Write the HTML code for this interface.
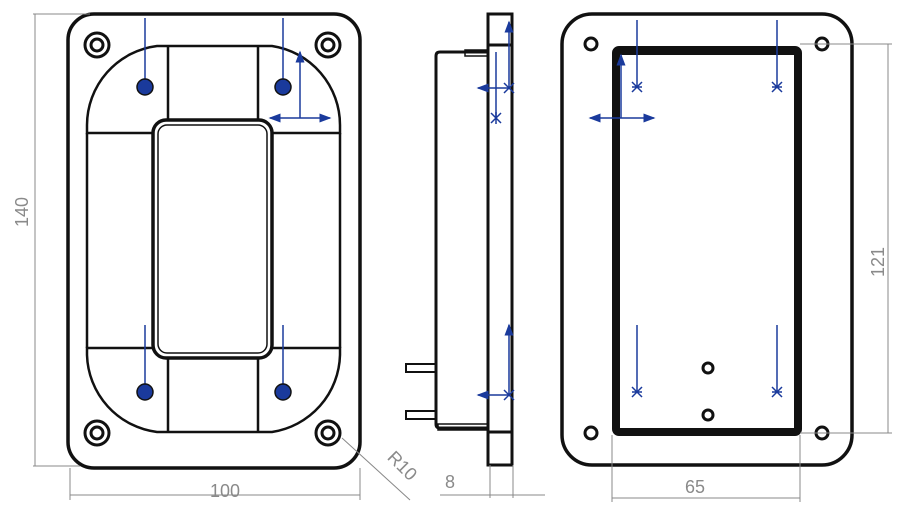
<!DOCTYPE html>
<html><head><meta charset="utf-8"><style>
html,body{margin:0;padding:0;background:#fff;}
svg{display:block;}
text{font-family:"Liberation Sans",sans-serif;fill:#8a8a8a;font-size:18px;}
</style></head><body>
<svg width="900" height="515" viewBox="0 0 900 515" xmlns="http://www.w3.org/2000/svg">
<defs>
<marker id="ah" markerWidth="8" markerHeight="8" refX="7" refY="4" orient="auto"><path d="M0,1 L8,4 L0,7 Z" fill="#1a3a9c"/></marker>
</defs>
<!-- LEFT VIEW -->
<g fill="none" stroke="#111" stroke-width="3.5">
<rect x="68" y="14" width="292" height="454" rx="26"/>
</g>
<g fill="none" stroke="#111" stroke-width="2.5">
<path d="M87,133 L87,125 A80,80 0 0 1 157,46 L272,46 A80,80 0 0 1 340,125 L340,133 Z"/>
<path d="M87,348 L87,355 A80,80 0 0 0 157,432 L272,432 A80,80 0 0 0 340,355 L340,348 Z"/>
<line x1="87" y1="133" x2="87" y2="348"/>
<line x1="340" y1="133" x2="340" y2="348"/>
<line x1="168" y1="46" x2="168" y2="120"/>
<line x1="258" y1="46" x2="258" y2="120"/>
<line x1="168" y1="358" x2="168" y2="432"/>
<line x1="258" y1="358" x2="258" y2="432"/>
<rect x="153" y="120" width="119" height="238" rx="13" fill="#fff" stroke-width="3.5"/>
<rect x="158" y="125" width="109" height="228" rx="9" stroke-width="1.5"/>
</g>
<g fill="none" stroke="#111" stroke-width="3">
<circle cx="97" cy="45" r="12"/><circle cx="97" cy="45" r="6"/>
<circle cx="328" cy="45" r="12"/><circle cx="328" cy="45" r="6"/>
<circle cx="97" cy="433" r="12"/><circle cx="97" cy="433" r="6"/>
<circle cx="328" cy="433" r="12"/><circle cx="328" cy="433" r="6"/>
</g>
<g stroke="#1a3a9c" stroke-width="1.5" fill="#1a3a9c">
<line x1="145" y1="18" x2="145" y2="87"/><line x1="283" y1="18" x2="283" y2="87"/>
<line x1="145" y1="325" x2="145" y2="392"/><line x1="283" y1="325" x2="283" y2="392"/>
<circle cx="145" cy="87" r="8" stroke="#111"/><circle cx="283" cy="87" r="8" stroke="#111"/>
<circle cx="145" cy="392" r="8" stroke="#111"/><circle cx="283" cy="392" r="8" stroke="#111"/>
<line x1="300" y1="118" x2="300" y2="52" marker-end="url(#ah)"/>
<line x1="300" y1="118" x2="270" y2="118" marker-end="url(#ah)"/>
<line x1="300" y1="118" x2="330" y2="118" marker-end="url(#ah)"/>
</g>
<g stroke="#888" stroke-width="1" fill="none">
<line x1="33" y1="14" x2="90" y2="14"/><line x1="33" y1="466" x2="80" y2="466"/>
<line x1="35" y1="14" x2="35" y2="466"/>
<line x1="70" y1="468" x2="70" y2="500"/><line x1="360" y1="468" x2="360" y2="500"/>
<line x1="70" y1="495" x2="360" y2="495"/>
<line x1="342" y1="438" x2="410" y2="500"/>
</g>
<text x="28" y="212" transform="rotate(-90 28 212)" text-anchor="middle">140</text>
<text x="225" y="497" text-anchor="middle">100</text>
<text x="398" y="470" transform="rotate(45 398 470)" text-anchor="middle">R10</text>
<!-- SIDE VIEW -->
<g fill="none" stroke="#111" stroke-width="3">
<rect x="488" y="14" width="24" height="451"/>
<line x1="488" y1="45" x2="512" y2="45"/><line x1="488" y1="432" x2="512" y2="432"/>
<path d="M488,52 L440,52 Q436,52 436,56 L436,424 Q436,428 440,428 L488,428"/>
<rect x="465" y="50" width="23" height="6" stroke-width="1.5"/>
<rect x="438" y="424" width="50" height="6" stroke-width="1.5"/>
<rect x="406" y="364" width="30" height="8" stroke-width="2"/>
<rect x="406" y="411" width="30" height="8" stroke-width="2"/>
</g>
<g stroke="#1a3a9c" stroke-width="1.5" fill="none">
<line x1="509" y1="88" x2="509" y2="22" marker-end="url(#ah)"/>
<line x1="509" y1="88" x2="478" y2="88" marker-end="url(#ah)"/>
<line x1="496" y1="52" x2="496" y2="118"/>
<line x1="509" y1="395" x2="509" y2="325" marker-end="url(#ah)"/>
<line x1="509" y1="395" x2="478" y2="395" marker-end="url(#ah)"/>
<path d="M491,113 l10,10 M501,113 l-10,10 M496,112 v12" />
<path d="M504,83 l10,10 M514,83 l-10,10" />
<path d="M504,390 l10,10 M514,390 l-10,10" />
</g>
<g stroke="#888" stroke-width="1" fill="none">
<line x1="490" y1="465" x2="490" y2="498"/><line x1="513" y1="465" x2="513" y2="498"/>
<line x1="440" y1="495" x2="545" y2="495"/>
</g>
<text x="450" y="488" text-anchor="middle">8</text>
<!-- RIGHT VIEW -->
<rect x="562" y="14" width="290" height="451" rx="30" fill="none" stroke="#111" stroke-width="3.5"/>
<g fill="none" stroke="#111" stroke-width="3">
<circle cx="591" cy="44" r="6"/><circle cx="822" cy="44" r="6"/>
<circle cx="591" cy="433" r="6"/><circle cx="822" cy="433" r="6"/>
<circle cx="708" cy="368" r="5"/><circle cx="708" cy="415" r="5"/>
</g>
<rect x="616" y="50" width="182" height="382" fill="none" stroke="#111" stroke-width="8" rx="3"/>
<line x1="620" y1="54" x2="796" y2="54" stroke="#111" stroke-width="2"/>
<g stroke="#1a3a9c" stroke-width="1.5" fill="none">
<line x1="637" y1="20" x2="637" y2="87"/><line x1="777" y1="20" x2="777" y2="87"/>
<line x1="637" y1="325" x2="637" y2="392"/><line x1="777" y1="325" x2="777" y2="392"/>
<path d="M632,82 l10,10 M642,82 l-10,10 M632,87 h10"/>
<path d="M772,82 l10,10 M782,82 l-10,10 M772,87 h10"/>
<path d="M632,387 l10,10 M642,387 l-10,10 M632,392 h10"/>
<path d="M772,387 l10,10 M782,387 l-10,10 M772,392 h10"/>
<line x1="621" y1="118" x2="621" y2="55" marker-end="url(#ah)"/>
<line x1="621" y1="118" x2="590" y2="118" marker-end="url(#ah)"/>
<line x1="621" y1="118" x2="654" y2="118" marker-end="url(#ah)"/>
</g>
<g stroke="#888" stroke-width="1" fill="none">
<line x1="800" y1="44" x2="892" y2="44"/><line x1="800" y1="433" x2="892" y2="433"/>
<line x1="888" y1="44" x2="888" y2="433"/>
<line x1="612" y1="435" x2="612" y2="502"/><line x1="800" y1="435" x2="800" y2="502"/>
<line x1="612" y1="498" x2="800" y2="498"/>
</g>
<text x="884" y="262" transform="rotate(-90 884 262)" text-anchor="middle">121</text>
<text x="695" y="493" text-anchor="middle">65</text>
</svg>
</body></html>
